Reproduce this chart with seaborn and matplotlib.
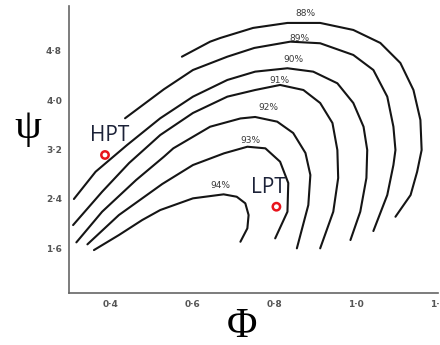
import matplotlib
matplotlib.use("Agg")
import matplotlib.pyplot as plt
import seaborn as sns
import pandas as pd

# ---- data ----
phi_88 = [0.574, 0.643, 0.668, 0.748, 0.832, 0.912, 0.993, 1.059, 1.108, 1.140, 1.157, 1.160, 1.149, 1.133, 1.096]
psi_88 = [4.707, 4.951, 5.011, 5.174, 5.255, 5.255, 5.141, 4.930, 4.605, 4.166, 3.679, 3.192, 2.839, 2.461, 2.108]

phi_89 = [0.435, 0.530, 0.601, 0.685, 0.751, 0.839, 0.912, 0.993, 1.042, 1.076, 1.091, 1.096, 1.091, 1.076, 1.042]
psi_89 = [3.707, 4.178, 4.491, 4.707, 4.849, 4.951, 4.925, 4.735, 4.491, 4.058, 3.570, 3.192, 2.948, 2.461, 1.876]

phi_90 = [0.310, 0.363, 0.440, 0.521, 0.601, 0.685, 0.753, 0.832, 0.895, 0.954, 0.993, 1.018, 1.027, 1.025, 1.010, 0.986]
psi_90 = [2.396, 2.839, 3.273, 3.707, 4.058, 4.329, 4.464, 4.519, 4.464, 4.275, 3.955, 3.570, 3.192, 2.737, 2.190, 1.730]

phi_91 = [0.308, 0.379, 0.445, 0.494, 0.521, 0.601, 0.685, 0.753, 0.814, 0.871, 0.912, 0.942, 0.954, 0.956, 0.944, 0.912]
psi_91 = [1.973, 2.514, 2.981, 3.273, 3.435, 3.793, 4.058, 4.166, 4.248, 4.166, 3.955, 3.630, 3.192, 2.737, 2.190, 1.595]

phi_92 = [0.316, 0.379, 0.462, 0.530, 0.553, 0.643, 0.717, 0.753, 0.807, 0.846, 0.876, 0.888, 0.883, 0.855]
psi_92 = [1.692, 2.190, 2.704, 3.083, 3.219, 3.570, 3.704, 3.728, 3.652, 3.468, 3.143, 2.786, 2.298, 1.595]

phi_93 = [0.343, 0.420, 0.526, 0.601, 0.677, 0.734, 0.778, 0.814, 0.834, 0.832, 0.802]
psi_93 = [1.660, 2.136, 2.640, 2.948, 3.138, 3.245, 3.219, 3.002, 2.656, 2.190, 1.757]

phi_94 = [0.359, 0.420, 0.477, 0.521, 0.601, 0.676, 0.708, 0.729, 0.737, 0.734, 0.717]
psi_94 = [1.567, 1.811, 2.055, 2.217, 2.407, 2.472, 2.433, 2.326, 2.136, 1.920, 1.702]

efficiency_labels = ["88%", "89%", "90%", "91%", "92%", "93%", "94%"]
label_phi = [0.876, 0.861, 0.846, 0.812, 0.785, 0.741, 0.669]
label_psi = [5.401, 5.006, 4.665, 4.313, 3.879, 3.354, 2.612]

turbines = ["HPT", "LPT"]
turbine_phi = [0.386, 0.805]
turbine_psi = [3.111, 2.271]
turbine_text_phi = [0.398, 0.785]
turbine_text_psi = [3.435, 2.591]

x_ticks = [0.4, 0.6, 0.8, 1.0, 1.2]
x_tick_labels = ["0·4", "0·6", "0·8", "1·0", "1·2"]
y_ticks = [1.6, 2.4, 3.2, 4.0, 4.8]
y_tick_labels = ["1·6", "2·4", "3·2", "4·0", "4·8"]

curves = {
    "88%": (phi_88, psi_88), "89%": (phi_89, psi_89), "90%": (phi_90, psi_90),
    "91%": (phi_91, psi_91), "92%": (phi_92, psi_92), "93%": (phi_93, psi_93),
    "94%": (phi_94, psi_94),
}
rows = []
for name, (px, py) in curves.items():
    for i, (a, b) in enumerate(zip(px, py)):
        rows.append({"eff": name, "order": i, "phi": a, "psi": b})
df = pd.DataFrame(rows)

sns.set_style("white")
plt.rcParams["font.family"] = ["DejaVu Sans"]

fig = plt.figure(figsize=(4.4, 3.45), dpi=100)
ax = fig.add_axes([69 / 440, 52 / 345, 369 / 440, 287 / 345])

sns.lineplot(data=df, x="phi", y="psi", units="eff", estimator=None, sort=False,
             color="#151515", linewidth=1.5, ax=ax, legend=False)
for ln in ax.get_lines():
    ln.set_solid_joinstyle("round")
    ln.set_solid_capstyle("round")

for t, x, y in zip(efficiency_labels, label_phi, label_psi):
    ax.text(x, y, t, ha="center", va="center", fontsize=6.5, color="#3a3a3a")

ax.scatter(turbine_phi, turbine_psi, s=28, facecolors="none", edgecolors="#e8141c",
           linewidths=1.8, zorder=5)
for t, x, y in zip(turbines, turbine_text_phi, turbine_text_psi):
    ax.text(x, y, t, ha="center", va="center", fontsize=15, color="#1c2238",
            family="Open Sans")

ax.set_xlim(0.298, 1.2)
ax.set_ylim(0.87, 5.53)
ax.set_xticks(x_ticks)
ax.set_xticklabels(x_tick_labels)
ax.set_yticks(y_ticks)
ax.set_yticklabels(y_tick_labels)
ax.tick_params(direction="in", length=7, width=1, color="#555555",
               labelsize=6.5, labelcolor="#555555", pad=5)
for lab in ax.get_xticklabels() + ax.get_yticklabels():
    lab.set_fontweight("bold")

for s in ["top", "right"]:
    ax.spines[s].set_visible(False)
for s in ["left", "bottom"]:
    ax.spines[s].set_color("#666666")
    ax.spines[s].set_linewidth(1.2)

ax.set_xlabel("")
ax.set_ylabel("")
fig.text(28 / 440, 1 - 128 / 345, "ψ", ha="center", va="center", fontsize=31,
         family="Liberation Serif", color="black")
fig.text(241.7 / 440, 1 - 326.7 / 345, "Φ", ha="center", va="center", fontsize=30,
         family="Liberation Serif", color="black")

fig.savefig("out.png", dpi=100)
